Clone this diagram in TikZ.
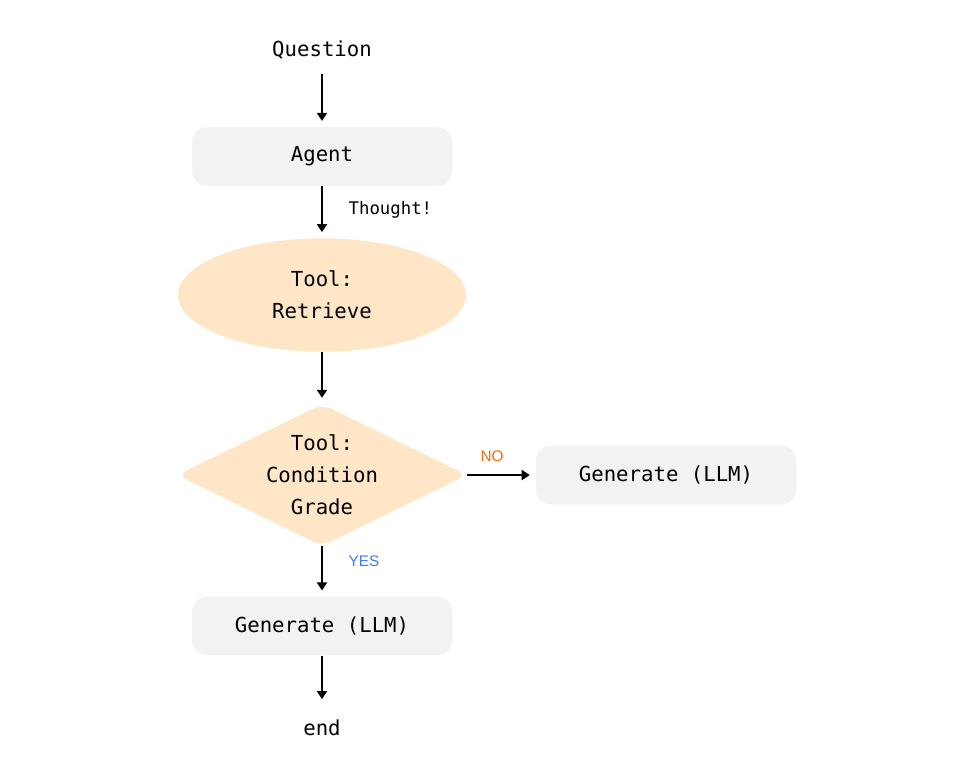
\documentclass[tikz,border=0pt]{standalone}
\usepackage{fontspec}
\setmonofont{DejaVu Sans Mono}
\setsansfont{Liberation Sans}
\usetikzlibrary{positioning,arrows.meta,shapes.geometric}
\definecolor{boxgray}{HTML}{F2F2F2}
\definecolor{toolpeach}{HTML}{FFE6C7}
\definecolor{noorange}{HTML}{F26B0F}
\definecolor{yesblue}{HTML}{3F7BF5}

\begin{document}
\begin{tikzpicture}[
    x=0.75pt, y=-0.75pt, on grid,
    every node/.style={font=\ttfamily\fontsize{15.5}{24}\selectfont},
    term/.style={inner sep=11pt},
    box/.style={rounded corners=11pt, minimum width=195pt, minimum height=44pt, align=center, fill=boxgray},
    tool/.style={ellipse, minimum width=216pt, minimum height=85pt, inner sep=0pt, align=center, fill=toolpeach},
    cond/.style={diamond, aspect=2, rounded corners=8pt, minimum width=217.5pt, minimum height=106.5pt, inner sep=0pt, align=center, fill=toolpeach},
    lbl/.style={font=\ttfamily\fontsize{13}{15}\selectfont, anchor=west, xshift=16pt},
    ans/.style={font=\sffamily\fontsize{11.5}{14}\selectfont},
    arrow/.style={-{Triangle[length=6pt,width=7.5pt]}, line width=1.3pt, shorten >=4.5pt}]
\useasboundingbox (0,0) rectangle (962,782);
\node[term] (question) at (322,50) {Question};
\node[box, below=79.9pt of question] (agent) {Agent};
\node[tool, below=103.9pt of agent] (retrieve) {Tool:\\Retrieve};
\node[cond, below=135pt of retrieve] (grade) {Tool:\\Condition\\Grade};
\node[box, right=258pt of grade] (genno) {Generate (LLM)};
\node[box, below=113.25pt of grade] (genyes) {Generate (LLM)};
\node[term, below=76.5pt of genyes] (finish) {end};
\draw[arrow] (question) -- (agent);
\draw[arrow] (agent) -- node[lbl, yshift=2pt] (thought) {Thought!} (retrieve);
\draw[arrow] (retrieve) -- (grade);
\draw[arrow] (grade) -- node[ans, text=noorange, anchor=south, yshift=6pt, xshift=-7pt] (no) {NO} (genno);
\draw[arrow] (grade) -- node[ans, text=yesblue, anchor=west, xshift=16pt, yshift=8pt] (yes) {YES} (genyes);
\draw[arrow] (genyes) -- (finish);
\end{tikzpicture}
\end{document}
